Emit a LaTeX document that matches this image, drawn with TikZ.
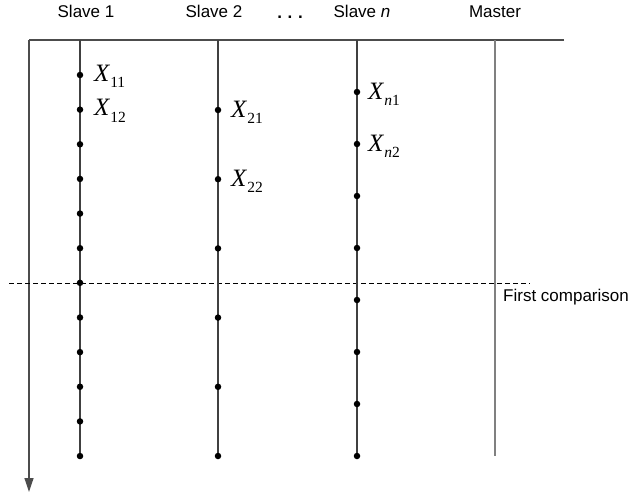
\documentclass[tikz,border=0pt]{standalone}
\usepackage{fontspec}
\setmainfont{Liberation Sans}
\newfontfamily\seriffont{Liberation Serif}
\usetikzlibrary{arrows.meta}
\newcommand\xsub[1]{{\seriffont\fontsize{25}{25}\selectfont\textit{X}}\raisebox{-6.5pt}{\seriffont\fontsize{15.5}{15.5}\selectfont #1}}
\begin{document}
\begin{tikzpicture}[x=1pt,y=-1pt,
  lbl/.style={font=\fontsize{17}{17}\selectfont, anchor=base, inner sep=0pt},
  lane/.style={line width=1.4pt, draw=black!75},
  master/.style={line width=1.3pt, draw=black!50},
  frame/.style={line width=1.2pt, draw=black!70},
  dotn/.style={circle, fill=black, inner sep=0pt, minimum size=6.5pt},
  xl/.style={anchor=base west, inner sep=0pt}]
\useasboundingbox (0,0) rectangle (629,496);
% headers
\node[lbl] (h1) at (86,17) {Slave 1};
\node[lbl] (h2) at (214,17) {Slave 2};
\node[lbl] (hd) at (290,18) {\textbf{.\,\,.\,\,.}};
\node[lbl] (hn) at (362,17) {Slave \textit{n}};
\node[lbl] (hm) at (495,17) {Master};
% frame
\coordinate (tl) at (29,40);
\coordinate (tr) at (564,40);
\coordinate (ab) at (29,492);
\draw[frame] (tr) -- (tl);
\draw[frame, -{Triangle[length=14pt,width=9pt]}] (tl) -- (ab);
% lane tops
\coordinate (s1t) at (80,40);
\coordinate (s2t) at (218,40);
\coordinate (snt) at (357,40);
\coordinate (mt) at (495,40);
\coordinate (mb) at (495,456);
% dashed line
\coordinate (dl) at (9,283);
\coordinate (dr) at (530,283);
\draw[line width=0.8pt, dash pattern=on 5pt off 3pt] (dl) -- (dr);
\node[anchor=base west, inner sep=0pt, font=\fontsize{17}{17}\selectfont] (fc) at (503,301) {First comparison};
% lanes
\draw[master] (mt) -- (mb);
\coordinate (s1b) at (80,456);
\coordinate (s2b) at (218,456);
\coordinate (snb) at (357,456);
\draw[lane] (s1t) -- (s1b);
\draw[lane] (s2t) -- (s2b);
\draw[lane] (snt) -- (snb);
\foreach \i in {1,...,12} {
  \node[dotn] (s1d\i) at (80,{75+(\i-1)*34.64}) {};
}
\foreach \i in {1,...,6} {
  \node[dotn] (s2d\i) at (218,{110+(\i-1)*69.2}) {};
}
\foreach \i in {1,...,8} {
  \node[dotn] (snd\i) at (357,{92+(\i-1)*52}) {};
}
% labels
\node[xl] (x11) at ([xshift=14pt,yshift=-6pt]s1d1.center) {\xsub{11}};
\node[xl] (x12) at ([xshift=14pt,yshift=-6pt]s1d2.center) {\xsub{12}};
\node[xl] (x21) at ([xshift=13pt,yshift=-7pt]s2d1.center) {\xsub{21}};
\node[xl] (x22) at ([xshift=13pt,yshift=-7pt]s2d2.center) {\xsub{22}};
\node[xl] (xn1) at ([xshift=11pt,yshift=-7pt]snd1.center) {\xsub{\textit{n}1}};
\node[xl] (xn2) at ([xshift=11pt,yshift=-7pt]snd2.center) {\xsub{\textit{n}2}};
\end{tikzpicture}
\end{document}
